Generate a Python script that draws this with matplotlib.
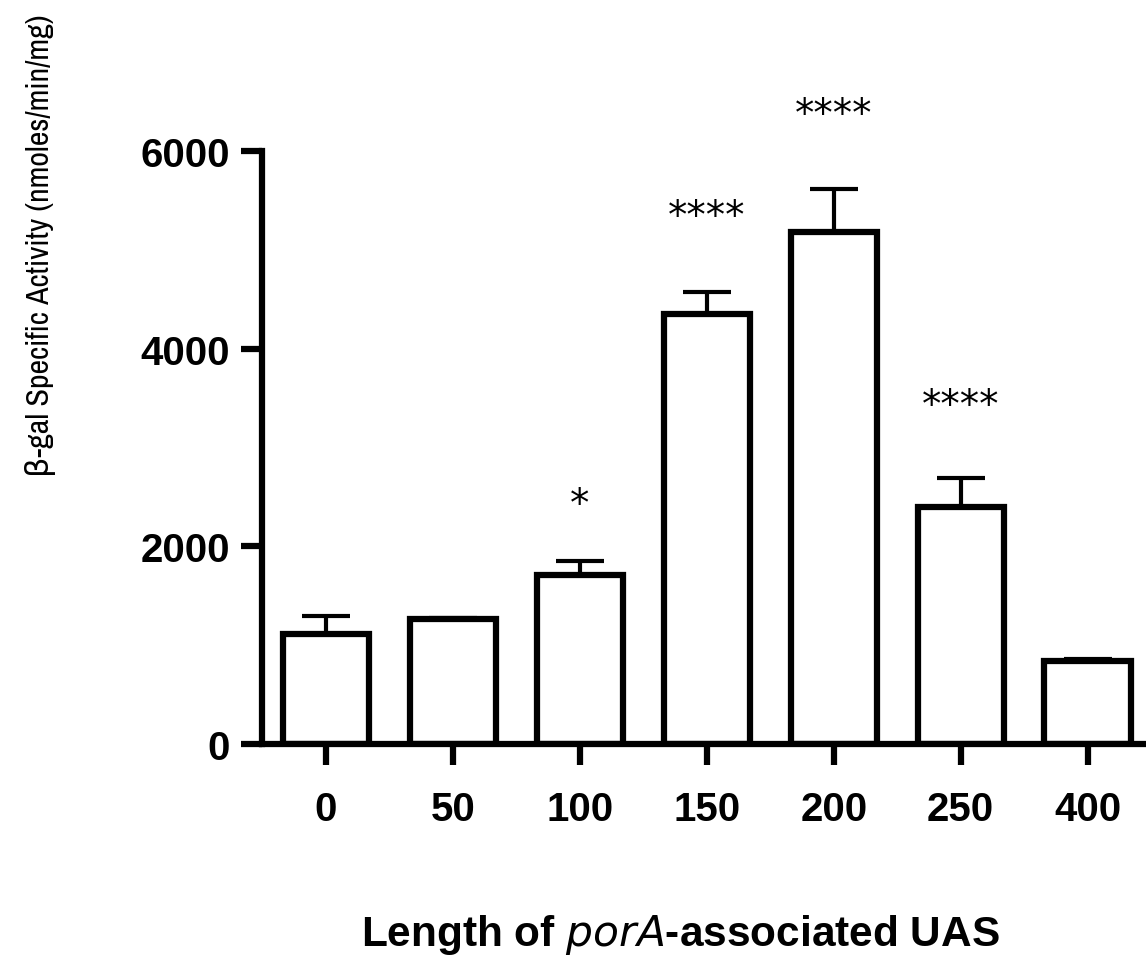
import numpy as np
import matplotlib.pyplot as plt
from matplotlib import font_manager

lengths = ['0', '50', '100', '150', '200', '250', '400']
activity = [1110, 1260, 1715, 4350, 5180, 2400, 840]
sem = [190, 20, 135, 225, 435, 290, 20]
stars = ['', '', '*', '****', '****', '****', '']

plt.rcParams['font.family'] = ['Liberation Sans', 'DejaVu Sans']

# condensed face for the y label if one is installed
narrow = None
for f in font_manager.fontManager.ttflist:
    if ('Narrow' in f.name or 'Condensed' in f.name) and narrow is None:
        narrow = f.name
ylab_size = 23 if narrow else 21
if narrow is None:
    narrow = 'Liberation Sans'

fig = plt.figure(figsize=(11.46, 9.78), dpi=100)
ax = fig.add_axes([0.2286, 0.2382, 0.7714, 0.6064])

x = np.arange(len(lengths))
ax.bar(x, activity, width=0.68, color='white', edgecolor='black', linewidth=4.5, zorder=2)
ax.errorbar(x, activity, yerr=[np.zeros(len(sem)), sem], fmt='none', ecolor='black',
            elinewidth=3, capsize=17, capthick=3, zorder=1)

pad = [0, 0, 580, 770, 760, 740, 0]
for i, s in enumerate(stars):
    if s:
        ax.text(x[i], activity[i] + sem[i] + pad[i], s, ha='center', va='center',
                fontsize=28, fontfamily='DejaVu Sans')

ax.set_xlim(-0.504, 6.46)
ax.set_ylim(0, 6000)
ax.set_yticks([0, 2000, 4000, 6000])
ax.set_xticks(x)
ax.set_xticklabels(lengths)
for sp in ['top', 'right']:
    ax.spines[sp].set_visible(False)
for sp in ['left', 'bottom']:
    ax.spines[sp].set_linewidth(4.5)
ax.spines['left'].set_bounds(0, 6000)
ax.tick_params(axis='both', direction='out', length=15, width=4.5, labelsize=29, pad=8)
for lab in ax.get_xticklabels() + ax.get_yticklabels():
    lab.set_fontweight('bold')
ax.tick_params(axis='x', pad=18)

fig.text(0.035, 0.749, 'β-gal Specific Activity (nmoles/min/mg)', rotation=90,
         ha='center', va='center', fontsize=ylab_size, family=[narrow, 'DejaVu Sans'])
fig.text(0.5935, 0.044, r'Length of $\bf{\it{porA}}$-associated UAS', ha='center', va='center',
         fontsize=30.5, fontweight='bold')

fig.savefig('out.png', dpi=100, facecolor='white')
